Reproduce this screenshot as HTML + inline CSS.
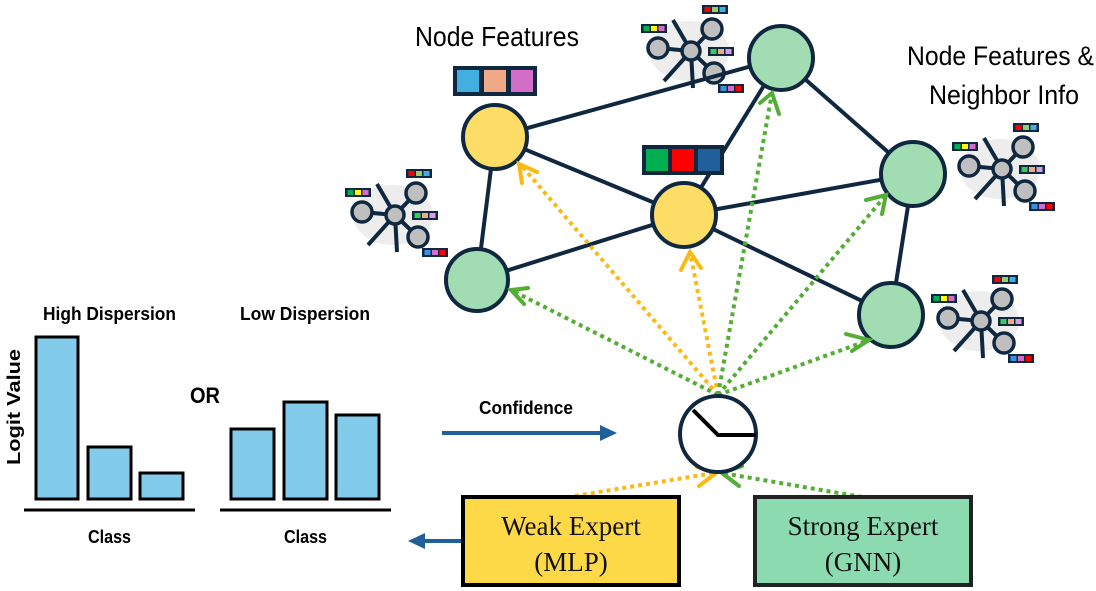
<!DOCTYPE html>
<html><head><meta charset="utf-8"><style>
html,body{margin:0;padding:0;background:#fff;}
svg{display:block;}
.lbl{font-family:"Liberation Sans",sans-serif;fill:#000;}
.b{font-family:"Liberation Sans",sans-serif;font-weight:bold;fill:#000;}
.tm{font-family:"Liberation Serif",serif;fill:#111;font-size:27px;}
</style></head><body>
<svg width="1096" height="591" viewBox="0 0 1096 591" xmlns="http://www.w3.org/2000/svg">
<defs>
<g id="nb">
  <ellipse cx="-2" cy="0" rx="40" ry="30" fill="#ededed"/>
  <g stroke="#0f2840" stroke-width="4" stroke-linecap="butt">
    <line x1="0" y1="0" x2="-18" y2="-31"/>
    <line x1="0" y1="0" x2="-27" y2="30"/>
    <line x1="0" y1="0" x2="2" y2="37"/>
    <line x1="0" y1="0" x2="-33" y2="-3"/>
    <line x1="0" y1="0" x2="21" y2="-22"/>
    <line x1="0" y1="0" x2="23" y2="22"/>
  </g>
  <g fill="#bfbfbf" stroke="#0f2840" stroke-width="3.5">
    <circle cx="0" cy="0" r="9"/>
    <circle cx="-33" cy="-3" r="10"/>
    <circle cx="21" cy="-22" r="10"/>
    <circle cx="23" cy="22" r="10"/>
  </g>
  <g>
    <rect x="11" y="-46" width="26" height="9" fill="#0f2840"/>
    <rect x="13.5" y="-44" width="6" height="5" fill="#ff0000"/><rect x="21" y="-44" width="6" height="5" fill="#8fd16a"/><rect x="28.5" y="-44" width="6" height="5" fill="#41b0e0"/>
    <rect x="-50" y="-27" width="26" height="9" fill="#0f2840"/>
    <rect x="-47.5" y="-25" width="6" height="5" fill="#00b050"/><rect x="-40" y="-25" width="6" height="5" fill="#ffff00"/><rect x="-32.5" y="-25" width="6" height="5" fill="#d36ec8"/>
    <rect x="17" y="-4" width="26" height="9" fill="#0f2840"/>
    <rect x="19.5" y="-2" width="6" height="5" fill="#3ec75a"/><rect x="27" y="-2" width="6" height="5" fill="#f0a987"/><rect x="34.5" y="-2" width="6" height="5" fill="#d99ee0"/>
    <rect x="27" y="33" width="26" height="9" fill="#0f2840"/>
    <rect x="29.5" y="35" width="6" height="5" fill="#3d8fe0"/><rect x="37" y="35" width="6" height="5" fill="#d36ec8"/><rect x="44.5" y="35" width="6" height="5" fill="#ff0000"/>
  </g>
</g>
</defs>

<!-- neighbor icons -->
<use href="#nb" x="395" y="215"/>
<use href="#nb" x="691" y="51"/>
<use href="#nb" x="1002" y="169"/>
<use href="#nb" x="981" y="321"/>

<!-- edges -->
<g stroke="#0f2840" stroke-width="4">
  <line x1="495" y1="137" x2="781" y2="58"/>
  <line x1="495" y1="137" x2="684" y2="215"/>
  <line x1="495" y1="137" x2="477" y2="280"/>
  <line x1="477" y1="280" x2="684" y2="215"/>
  <line x1="684" y1="215" x2="781" y2="58"/>
  <line x1="684" y1="215" x2="913" y2="174"/>
  <line x1="684" y1="215" x2="891" y2="315"/>
  <line x1="781" y1="58" x2="913" y2="174"/>
  <line x1="913" y1="174" x2="891" y2="315"/>
</g>

<!-- feature boxes -->
<rect x="453" y="66" width="84" height="30" fill="#0f2840"/>
<rect x="457" y="70" width="22" height="22" fill="#41b0e0"/>
<rect x="484" y="70" width="22" height="22" fill="#f0a987"/>
<rect x="511" y="70" width="22" height="22" fill="#d36ec8"/>
<rect x="642" y="145" width="82" height="30" fill="#0f2840"/>
<rect x="646" y="149" width="22" height="22" fill="#00b050"/>
<rect x="672" y="149" width="22" height="22" fill="#ff0000"/>
<rect x="698" y="149" width="22" height="22" fill="#215f9a"/>

<!-- nodes -->
<g stroke="#0f2840" stroke-width="4">
  <circle cx="495" cy="137" r="32" fill="#fedd66"/>
  <circle cx="684" cy="215" r="32" fill="#fedd66"/>
  <circle cx="781" cy="58" r="32" fill="#a1dcb3"/>
  <circle cx="913" cy="174" r="32" fill="#a1dcb3"/>
  <circle cx="891" cy="315" r="32" fill="#a1dcb3"/>
  <circle cx="477" cy="280" r="31" fill="#a1dcb3"/>
</g>

<!-- dotted arrows -->
<g fill="none" stroke-width="4" stroke-dasharray="4 4">
  <line x1="718" y1="395" x2="521" y2="165" stroke="#fbb913"/>
  <line x1="718" y1="395" x2="690" y2="252" stroke="#fbb913"/>
  <line x1="718" y1="395" x2="511" y2="290" stroke="#54ad35"/>
  <line x1="718" y1="395" x2="772" y2="93" stroke="#54ad35"/>
  <line x1="718" y1="395" x2="886" y2="195" stroke="#54ad35"/>
  <line x1="718" y1="395" x2="869" y2="340" stroke="#54ad35"/>
  <line x1="575" y1="496" x2="714" y2="473" stroke="#fbb913"/>
  <line x1="862" y1="497" x2="722" y2="473" stroke="#54ad35"/>
</g>
<g fill="none" stroke-width="4" stroke-linecap="round">
  <polyline points="522,183 519,164 537,172" stroke="#fbb913"/>
  <polyline points="681,270 690,252 701,268" stroke="#fbb913"/>
  <polyline points="524,304 511,290 528,288" stroke="#54ad35"/>
  <polyline points="760,103 772,93 779,114" stroke="#54ad35"/>
  <polyline points="866,200 886,195 882,214" stroke="#54ad35"/>
  <polyline points="846,334 869,340 852,351" stroke="#54ad35"/>
  <polyline points="697,467 716,473 699,486" stroke="#fbb913"/>
  <polyline points="742,466 722,473 739,486" stroke="#54ad35"/>
</g>

<!-- timer -->
<circle cx="718" cy="434" r="38" fill="#fff" stroke="#0f2840" stroke-width="4"/>
<polyline points="693,410 718,435 756,435" fill="none" stroke="#000" stroke-width="4"/>

<!-- text labels -->
<text class="lbl" x="415" y="46" font-size="28" textLength="164" lengthAdjust="spacingAndGlyphs">Node Features</text>
<text class="lbl" x="907" y="65" font-size="27" textLength="187" lengthAdjust="spacingAndGlyphs">Node Features &amp;</text>
<text class="lbl" x="929" y="104" font-size="27" textLength="150" lengthAdjust="spacingAndGlyphs">Neighbor Info</text>

<!-- charts -->
<g fill="#83cbea" stroke="#000" stroke-width="3">
  <rect x="36" y="337" width="42" height="162"/>
  <rect x="88" y="447" width="43" height="52"/>
  <rect x="140" y="473" width="43" height="26"/>
  <rect x="231" y="429" width="43" height="70"/>
  <rect x="284" y="402" width="43" height="97"/>
  <rect x="336" y="415" width="43" height="84"/>
</g>
<line x1="24" y1="510" x2="195" y2="510" stroke="#000" stroke-width="3"/>
<line x1="220" y1="510" x2="391" y2="510" stroke="#000" stroke-width="3"/>
<text class="b" x="43" y="320" font-size="18" textLength="133" lengthAdjust="spacingAndGlyphs">High Dispersion</text>
<text class="b" x="240" y="320" font-size="18" textLength="130" lengthAdjust="spacingAndGlyphs">Low Dispersion</text>
<text class="b" x="190" y="403" font-size="22" textLength="30" lengthAdjust="spacingAndGlyphs">OR</text>
<text class="b" x="88" y="543" font-size="18" textLength="43" lengthAdjust="spacingAndGlyphs">Class</text>
<text class="b" x="284" y="543" font-size="18" textLength="43" lengthAdjust="spacingAndGlyphs">Class</text>
<text class="b" x="0" y="0" font-size="18" transform="translate(20,465) rotate(-90)" textLength="116" lengthAdjust="spacingAndGlyphs">Logit Value</text>
<text class="b" x="479" y="414" font-size="18" textLength="94" lengthAdjust="spacingAndGlyphs">Confidence</text>

<!-- blue arrows -->
<line x1="442" y1="433" x2="602" y2="433" stroke="#215f9a" stroke-width="4"/>
<polygon points="600,425 617,433 600,441" fill="#215f9a"/>
<line x1="462" y1="541" x2="420" y2="541" stroke="#215f9a" stroke-width="4"/>
<polygon points="425,533 408,541 425,549" fill="#215f9a"/>

<!-- expert boxes -->
<rect x="463" y="497" width="216" height="88" fill="#fed947" stroke="#000" stroke-width="4"/>
<text class="tm" x="571" y="535" text-anchor="middle">Weak Expert</text>
<text class="tm" x="571" y="571" text-anchor="middle">(MLP)</text>
<rect x="755" y="497" width="216" height="88" fill="#8bdab0" stroke="#222" stroke-width="4"/>
<text class="tm" x="863" y="535" text-anchor="middle">Strong Expert</text>
<text class="tm" x="863" y="571" text-anchor="middle">(GNN)</text>
</svg>
</body></html>
